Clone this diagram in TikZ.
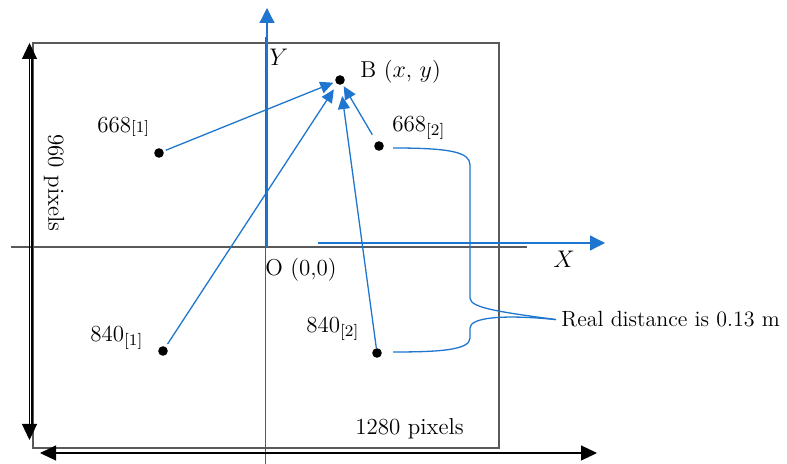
\documentclass[tikz,border=0pt]{standalone}
\usetikzlibrary{arrows.meta}
\definecolor{axisblue}{RGB}{31,118,206}
\begin{document}
\begin{tikzpicture}[
  x = 0.5pt, y = -0.5pt,
  frame/.style     = {draw=black!65, line width=0.6pt},
  blueline/.style  = {draw=axisblue, line width=0.65pt},
  axisarrow/.style = {blueline, -{Triangle[length=7.5pt,width=7.5pt]}},
  bluearrow/.style = {blueline, -{Triangle[length=6.5pt,width=6pt]}},
  pixarrow/.style  = {draw=black, line width=0.55pt,
                      {Triangle[length=8pt,width=7.5pt]}-{Triangle[length=8pt,width=7.5pt]}},
  dot/.style       = {circle, fill=black, inner sep=0pt, minimum size=4.8pt},
  lbl/.style       = {font=\fontsize{11.5}{13}\selectfont, inner sep=0pt},
]

\useasboundingbox (0,0) rectangle (787,464);

% image frame and grey centre lines
\draw[frame] (33,43) rectangle (499,448);
\draw[frame] (11,247) -- (527,247);
\draw[frame] (265.5,37) -- (265.5,464);

% blue axes
\coordinate (O) at (267,247);
\coordinate (Ytip) at (267,8);
\coordinate (Xstart) at (318,243);
\coordinate (Xtip) at (605,243);
\draw[axisarrow] (O) -- (Ytip);
\draw[axisarrow] (Xstart) -- (Xtip);

% image size arrows
\coordinate (htop) at (29.5,43);
\coordinate (hbot) at (29.5,440);
\coordinate (wleft) at (40,453);
\coordinate (wright) at (597,453);
\draw[pixarrow] (htop) -- (hbot);
\draw[black, line width=0.55pt] (32,58) -- (32,426);
\draw[pixarrow] (wleft) -- (wright);

% measured points
\node[dot] (p1) at (159,153) {};
\node[dot] (B)  at (340,80)  {};
\node[dot] (p2) at (379,146) {};
\node[dot] (q1) at (163,351) {};
\node[dot] (q2) at (377,353) {};

\draw[bluearrow, shorten <=1pt, shorten >=1pt] (p1) -- (B);
\draw[bluearrow, shorten <=1.5pt, shorten >=3pt] (q1) -- (B);
\draw[bluearrow, shorten >=5.5pt] (q2) -- (B);
\draw[bluearrow, shorten <=4pt, shorten >=1pt] (p2) -- (B);

% labels
\node[lbl, anchor=base west] (lp1) at (97,133)  {668{\footnotesize[1]}};
\node[lbl, anchor=base west] (lB)  at (360,78)  {B ($x$, $y$)};
\node[lbl, anchor=base west] (lp2) at (392,132) {668\textsubscript{[2]}};
\node[lbl, anchor=base west] (lq1) at (90,342)  {840\textsubscript{[1]}};
\node[lbl, anchor=base west] (lq2) at (306,333) {840\textsubscript{[2]}};
\node[lbl, anchor=base west] (lO)  at (265,276) {O (0,0)};
\node[lbl, anchor=base west] (lY)  at (269,66)  {$Y$};
\node[lbl, anchor=base west] (lX)  at (553,268) {$X$};
\node[lbl, anchor=base west] (lw)  at (355,435) {1280 pixels};
\node[lbl, rotate=-90]       (lh)  at (54,183)  {960 pixels};
\node[lbl, anchor=base west, font=\fontsize{11}{13}\selectfont]
      (dist) at (561,327) {Real distance is 0.13 m};

% brace joining the two right-hand points to the distance text
\coordinate (tip) at ([xshift=-2.5pt]dist.west);
\draw[blueline] ([xshift=7pt,yshift=-1pt]p2.center)
  .. controls (450,148) and (470,152) .. (470,165) -- (470,298)
  .. controls (470,308) and (500,312) .. (tip);
\draw[blueline] (tip)
  .. controls (500,314) and (470,318) .. (470,328) -- (470,338)
  .. controls (470,350) and (440,352) .. ([xshift=8pt,yshift=0.5pt]q2.center);

\end{tikzpicture}
\end{document}
